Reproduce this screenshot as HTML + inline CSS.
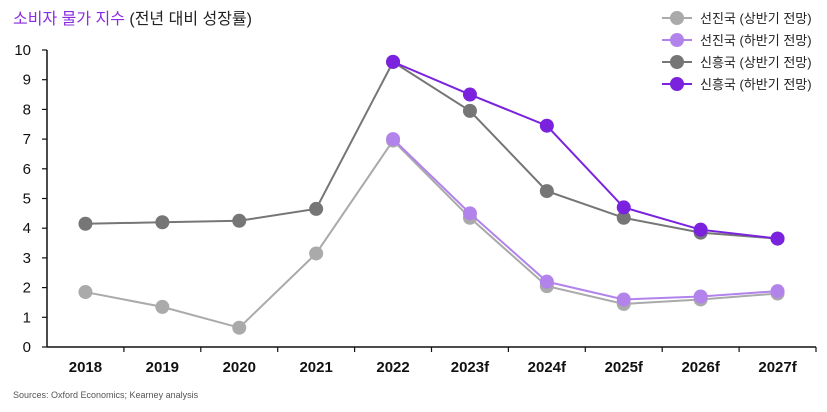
<!DOCTYPE html>
<html><head><meta charset="utf-8"><style>
body{margin:0;background:#fff;font-family:"Liberation Sans","Noto Sans CJK KR",sans-serif;}
</style></head><body>
<svg id="c" width="827" height="407" xmlns="http://www.w3.org/2000/svg" style="font-family:'Liberation Sans','Noto Sans CJK KR',sans-serif">
<text x="13" y="24" font-size="16"><tspan fill="#8a2be2">소비자 물가 지수</tspan><tspan fill="#222"> (전년 대비 성장률)</tspan></text>
<text x="13" y="398" font-size="9" fill="#555">Sources: Oxford Economics; Kearney analysis</text>
<g id="axes"></g><g id="series"></g><g id="legend"></g>
</svg>
<script>
const categories=["2018","2019","2020","2021","2022","2023f","2024f","2025f","2026f","2027f"];
const yTicks=[0,1,2,3,4,5,6,7,8,9,10];
const advH1=[1.85,1.35,0.65,3.15,6.95,4.35,2.05,1.45,1.6,1.8];
const advH2=[null,null,null,null,7.0,4.5,2.2,1.6,1.7,1.88];
const emgH1=[4.15,4.2,4.25,4.65,9.6,7.95,5.25,4.35,3.85,3.65];
const emgH2=[null,null,null,null,9.6,8.5,7.45,4.7,3.95,3.65];
const seriesNames=["선진국 (상반기 전망)","선진국 (하반기 전망)","신흥국 (상반기 전망)","신흥국 (하반기 전망)"];
const NS="http://www.w3.org/2000/svg";
const x0=47,x1=816,y0=347,y10=50;
const step=(x1-x0)/categories.length;
const xs=i=>x0+step*(i+0.5);
const ys=v=>y0-(v/10)*(y0-y10);
function mk(t,a,p){const e=document.createElementNS(NS,t);for(const k in a)e.setAttribute(k,a[k]);p.appendChild(e);return e;}
const ax=document.getElementById('axes');
let l=mk('line',{x1:x0,y1:y10,x2:x0,y2:y0,stroke:'#111','stroke-width':1.5},ax);


l=mk('line',{x1:x0,y1:y0,x2:x1,y2:y0,stroke:'#111','stroke-width':1.5},ax);


yTicks.forEach(v=>{const y=ys(v);
mk('line',{x1:x0-5,y1:y,x2:x0,y2:y,stroke:'#111','stroke-width':1.2},ax);
const t=mk('text',{x:31,y:y+5,'font-size':15,'text-anchor':'end',fill:'#111'},ax);t.textContent=v;

});
categories.forEach((c,i)=>{const xe=x0+step*(i+1);
mk('line',{x1:xe,y1:y0,x2:xe,y2:y0+5,stroke:'#111','stroke-width':1.2},ax);
const t=mk('text',{x:xs(i),y:372,'font-size':15,'font-weight':'bold','text-anchor':'middle',fill:'#111'},ax);t.textContent=c;

});
const sg=document.getElementById('series');
const defs=[[advH1,'#aaaaaa','advanced-h1'],[emgH1,'#767676','emerging-h1'],[advH2,'#b383ec','advanced-h2'],[emgH2,'#7a22dd','emerging-h2']];
defs.forEach(([d,col,nm])=>{const g=mk('g',{},sg);


const pts=d.map((v,i)=>v==null?null:[xs(i),ys(v)]).filter(p=>p);
mk('polyline',{points:pts.map(p=>p.join(',')).join(' '),fill:'none',stroke:col,'stroke-width':2},g);
pts.forEach(p=>{const c=mk('circle',{cx:p[0],cy:p[1],r:7,fill:col},g);

});});
const lg=document.getElementById('legend');
const lc=['#aaaaaa','#b383ec','#767676','#7a22dd'];
seriesNames.forEach((n,i)=>{const y=18+i*22;const g=mk('g',{},lg);


mk('line',{x1:662,y1:y,x2:692,y2:y,stroke:lc[i],'stroke-width':2},g);
mk('circle',{cx:677,cy:y,r:7,fill:lc[i]},g);
const t=mk('text',{x:700,y:y+5,'font-size':13,fill:'#222'},g);t.textContent=n;});
</script>
</body></html>
